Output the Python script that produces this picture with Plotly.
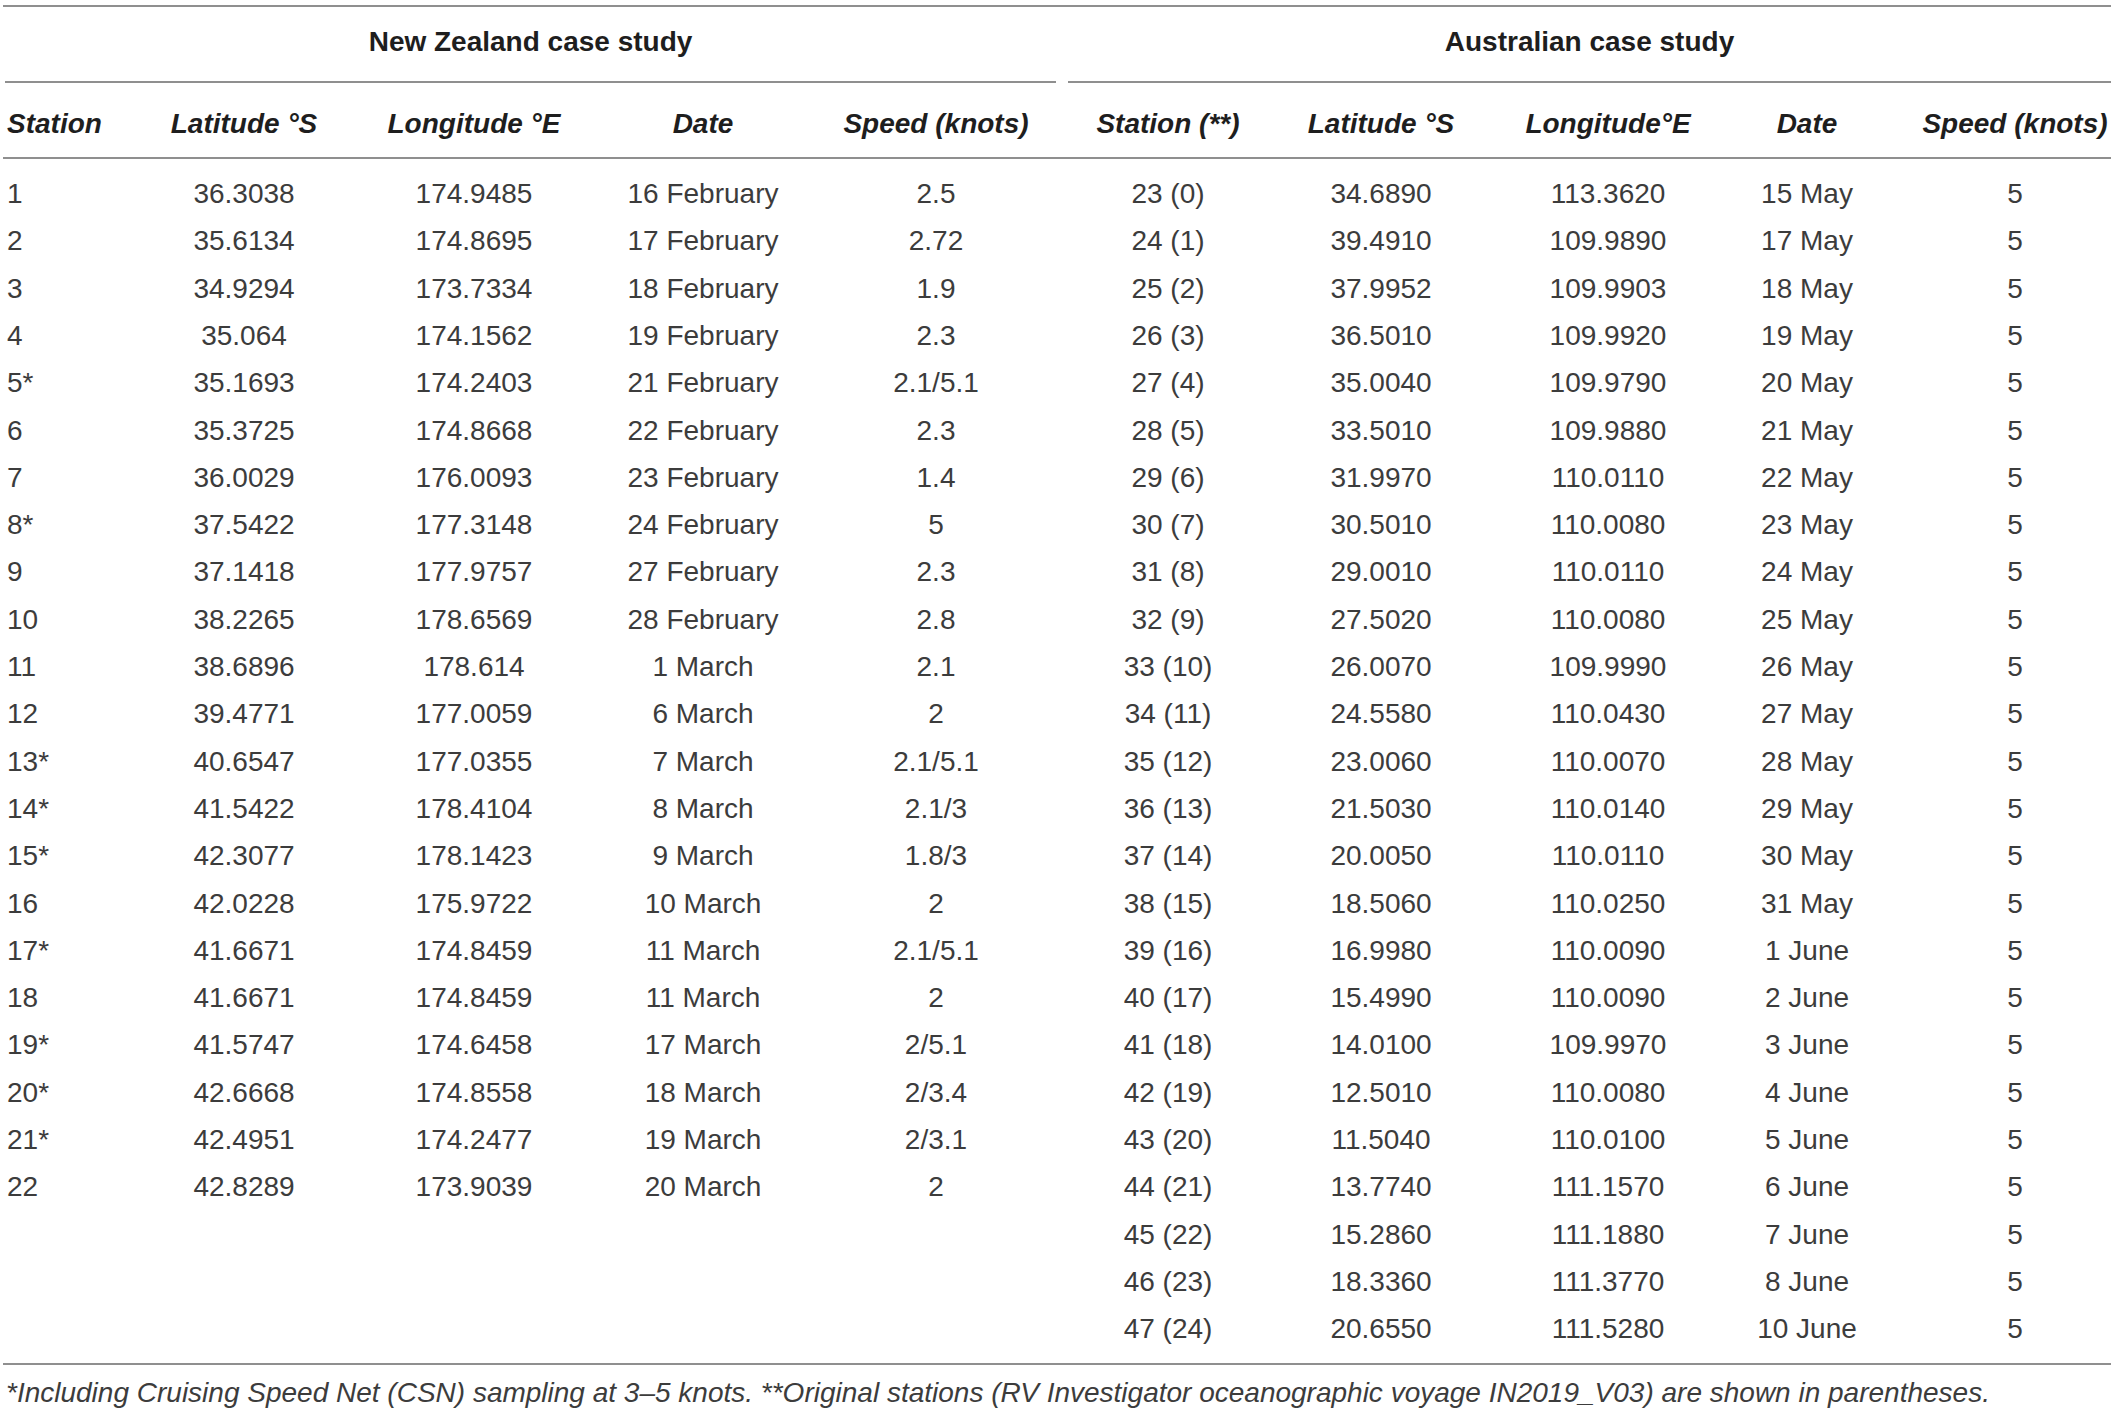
import plotly.graph_objects as go

# New Zealand case study
nz_station = ['1', '2', '3', '4', '5*', '6', '7', '8*', '9', '10', '11',
              '12', '13*', '14*', '15*', '16', '17*', '18', '19*', '20*',
              '21*', '22']
nz_lat = ['36.3038', '35.6134', '34.9294', '35.064', '35.1693', '35.3725',
          '36.0029', '37.5422', '37.1418', '38.2265', '38.6896', '39.4771',
          '40.6547', '41.5422', '42.3077', '42.0228', '41.6671', '41.6671',
          '41.5747', '42.6668', '42.4951', '42.8289']
nz_lon = ['174.9485', '174.8695', '173.7334', '174.1562', '174.2403',
          '174.8668', '176.0093', '177.3148', '177.9757', '178.6569',
          '178.614', '177.0059', '177.0355', '178.4104', '178.1423',
          '175.9722', '174.8459', '174.8459', '174.6458', '174.8558',
          '174.2477', '173.9039']
nz_date = ['16 February', '17 February', '18 February', '19 February',
           '21 February', '22 February', '23 February', '24 February',
           '27 February', '28 February', '1 March', '6 March', '7 March',
           '8 March', '9 March', '10 March', '11 March', '11 March',
           '17 March', '18 March', '19 March', '20 March']
nz_speed = ['2.5', '2.72', '1.9', '2.3', '2.1/5.1', '2.3', '1.4', '5', '2.3',
            '2.8', '2.1', '2', '2.1/5.1', '2.1/3', '1.8/3', '2', '2.1/5.1',
            '2', '2/5.1', '2/3.4', '2/3.1', '2']

# Australian case study
au_station = ['23 (0)', '24 (1)', '25 (2)', '26 (3)', '27 (4)', '28 (5)',
              '29 (6)', '30 (7)', '31 (8)', '32 (9)', '33 (10)', '34 (11)',
              '35 (12)', '36 (13)', '37 (14)', '38 (15)', '39 (16)',
              '40 (17)', '41 (18)', '42 (19)', '43 (20)', '44 (21)',
              '45 (22)', '46 (23)', '47 (24)']
au_lat = ['34.6890', '39.4910', '37.9952', '36.5010', '35.0040', '33.5010',
          '31.9970', '30.5010', '29.0010', '27.5020', '26.0070', '24.5580',
          '23.0060', '21.5030', '20.0050', '18.5060', '16.9980', '15.4990',
          '14.0100', '12.5010', '11.5040', '13.7740', '15.2860', '18.3360',
          '20.6550']
au_lon = ['113.3620', '109.9890', '109.9903', '109.9920', '109.9790',
          '109.9880', '110.0110', '110.0080', '110.0110', '110.0080',
          '109.9990', '110.0430', '110.0070', '110.0140', '110.0110',
          '110.0250', '110.0090', '110.0090', '109.9970', '110.0080',
          '110.0100', '111.1570', '111.1880', '111.3770', '111.5280']
au_date = ['15 May', '17 May', '18 May', '19 May', '20 May', '21 May',
           '22 May', '23 May', '24 May', '25 May', '26 May', '27 May',
           '28 May', '29 May', '30 May', '31 May', '1 June', '2 June',
           '3 June', '4 June', '5 June', '6 June', '7 June', '8 June',
           '10 June']
au_speed = ['5'] * 25

group_titles = ['New Zealand case study', 'Australian case study']
nz_headers = ['Station', 'Latitude °S', 'Longitude °E', 'Date',
              'Speed (knots)']
au_headers = ['Station (**)', 'Latitude °S', 'Longitude°E', 'Date',
              'Speed (knots)']
footnote = ('*Including Cruising Speed Net (CSN) sampling at 3–5 knots. '
            '**Original stations (RV Investigator oceanographic voyage '
            'IN2019_V03) are shown in parentheses.')

# layout (pixel space of the page)
W, H = 2117, 1414
FONT = 'Liberation Sans'
SIZE = 28
BODY_COLOR = '#3c3c3c'
HEAD_COLOR = '#1e1e1e'
LINE_COLOR = '#8f8f8f'
ROW0, ROW_STEP = 196, 47.3
NZ_X = [7, 244, 474, 703, 936]
AU_X = [1168, 1381, 1608, 1807, 2015]
NZ_SPAN = (5, 1056)
AU_SPAN = (1068, 2111)
Y_TOP, Y_GROUP, Y_GROUP_LINE, Y_HEAD, Y_HEAD_LINE = 6, 44, 82, 126, 158
Y_BOTTOM, Y_NOTE = 1364, 1395
X_NOTE = 6


def text_trace(xs, ys, texts, anchor='middle center', weight='normal',
               style='normal', color=BODY_COLOR):
    return go.Scatter(x=xs, y=ys, text=texts, mode='text',
                      textposition=anchor, hoverinfo='skip',
                      showlegend=False, cliponaxis=False,
                      textfont=dict(family=FONT, size=SIZE, color=color,
                                    weight=weight, style=style))


fig = go.Figure()

# body rows
for columns, xs in [([nz_station, nz_lat, nz_lon, nz_date, nz_speed], NZ_X),
                    ([au_station, au_lat, au_lon, au_date, au_speed], AU_X)]:
    for j, col in enumerate(columns):
        ys = [ROW0 + i * ROW_STEP for i in range(len(col))]
        anchor = 'middle right' if xs is NZ_X and j == 0 else 'middle center'
        fig.add_trace(text_trace([xs[j]] * len(col), ys, col, anchor))

# column headers
fig.add_trace(text_trace(NZ_X[1:] + AU_X, [Y_HEAD] * 9,
                         nz_headers[1:] + au_headers,
                         weight='bold', style='italic', color=HEAD_COLOR))
fig.add_trace(text_trace([NZ_X[0]], [Y_HEAD], nz_headers[:1],
                         anchor='middle right', weight='bold',
                         style='italic', color=HEAD_COLOR))

# group titles
fig.add_trace(text_trace([sum(NZ_SPAN) / 2, sum(AU_SPAN) / 2],
                         [Y_GROUP] * 2, group_titles,
                         weight='bold', color=HEAD_COLOR))

# footnote
fig.add_trace(text_trace([X_NOTE], [Y_NOTE], [footnote],
                         anchor='middle right', style='italic'))

line = dict(color=LINE_COLOR, width=2)
for y0 in [Y_TOP, Y_HEAD_LINE, Y_BOTTOM]:
    fig.add_shape(type='line', x0=3, x1=W - 6, y0=y0, y1=y0, line=line)
for span in [NZ_SPAN, AU_SPAN]:
    fig.add_shape(type='line', x0=span[0], x1=span[1], y0=Y_GROUP_LINE,
                  y1=Y_GROUP_LINE, line=line)

fig.update_xaxes(range=[0, W], visible=False, fixedrange=True)
fig.update_yaxes(range=[H, 0], visible=False, fixedrange=True)
fig.update_layout(width=W, height=H, margin=dict(l=0, r=0, t=0, b=0),
                  paper_bgcolor='white', plot_bgcolor='white')

# the page's default body margin would push the table off its frame
fig.write_html('out.html', post_script="document.body.style.margin='0';",
               config={'displayModeBar': False})
